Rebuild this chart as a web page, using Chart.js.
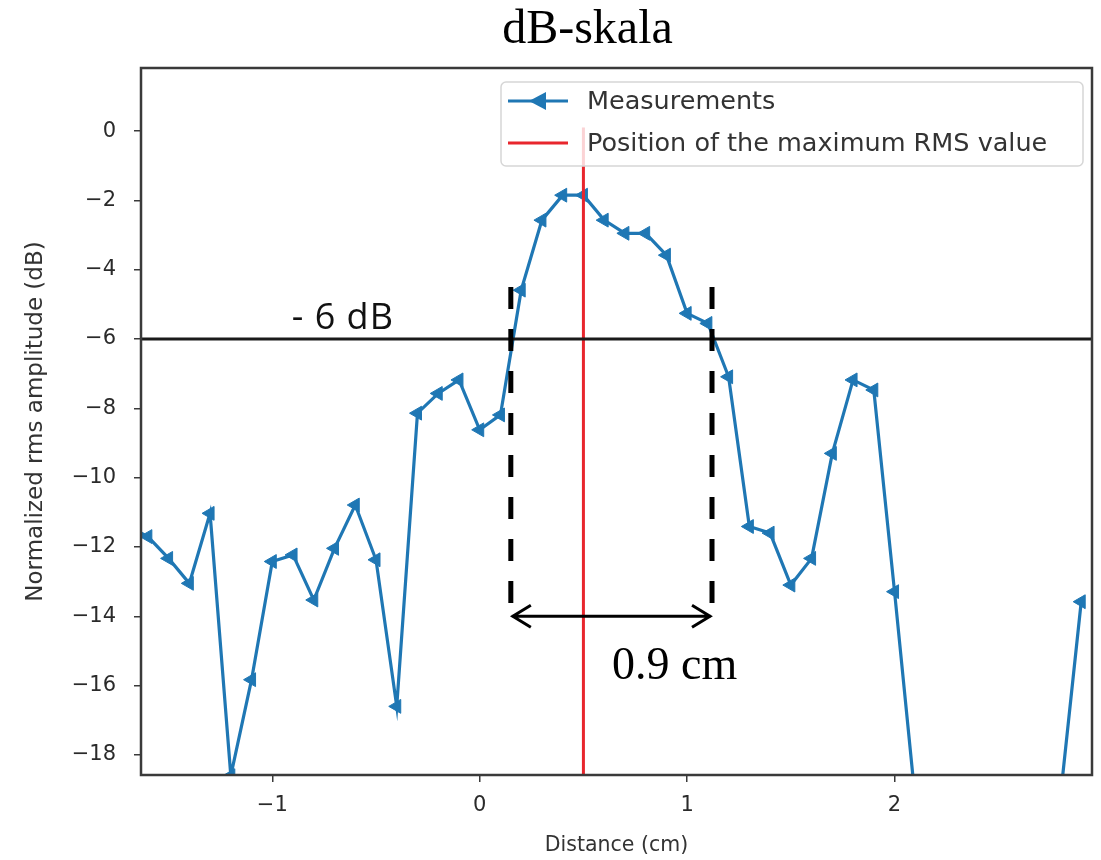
<!DOCTYPE html>
<html>
<head>
<meta charset="utf-8">
<script src="https://cdn.jsdelivr.net/npm/chart.js@4.4.1/dist/chart.umd.min.js"></script>
<style>
  html, body { margin: 0; padding: 0; background: #fff; }
</style>
</head>
<body>
<canvas id="chart" width="1101" height="860"></canvas>
<script>
// measured rms amplitude along the scan line
const distance = [-1.7, -1.6, -1.5, -1.4, -1.3, -1.2, -1.1, -1.0, -0.9, -0.8, -0.7, -0.6, -0.5, -0.4,
  -0.3, -0.2, -0.1, 0.0, 0.1, 0.2, 0.3, 0.4, 0.5, 0.6, 0.7, 0.8, 0.9, 1.0, 1.1, 1.2, 1.3, 1.4,
  1.5, 1.6, 1.7, 1.8, 1.9, 2.0, 2.1, 2.2, 2.3, 2.4, 2.5, 2.6, 2.7, 2.8, 2.9];
const amplitude = [-11.4, -11.7, -12.33, -13.05, -11.03, -18.6, -15.83, -12.42, -12.23, -13.53, -12.04, -10.79, -12.37, -16.6,
  -8.14, -7.57, -7.18, -8.62, -8.19, -4.59, -2.57, -1.85, -1.85, -2.57, -2.95, -2.95, -3.58, -5.26, -5.55, -7.09, -11.41, -11.6,
  -13.1, -12.33, -9.3, -7.18, -7.47, -13.29, -19.3, -21.5, -23.0, -22.0, -24.0, -22.5, -21.0, -19.2, -13.58];

const xTicks = [-1, 0, 1, 2];
const yTicks = [0, -2, -4, -6, -8, -10, -12, -14, -16, -18];
const xRange = [-1.633, 2.952];
const yRange = [-18.58, 1.82];

const peakX = 0.5;
const peakSpan = [0.1, -25];
const levelY = -6;
const levelSpan = [-1.8, 3.1];
const halfX = [0.15, 1.12];
const halfSpan = [-4.5, -13.7];
const arrowY = -14;

const legendLabels = ["Measurements", "Position of the maximum RMS value"];
const BLUE = "#1f77b4", RED = "#e8262d", INK = "#2a2a2a";

const pts = (xs, ys) => xs.map((x, i) => ({ x, y: ys[i] }));
const minus = v => String(v).replace("-", "\u2212");

const extras = {
  id: "extras",
  afterDatasetsDraw(chart) {
    const { ctx, chartArea: a, scales: { x, y } } = chart;
    ctx.save();
    // frame
    ctx.strokeStyle = "#3a3a3a";
    ctx.lineWidth = 2.5;
    ctx.strokeRect(a.left, a.top, a.right - a.left, a.bottom - a.top);

    // legend
    const lx = 501, ly = 82, lw = 582, lh = 84;
    ctx.beginPath();
    ctx.roundRect(lx, ly, lw, lh, 5);
    ctx.fillStyle = "rgba(255,255,255,0.8)";
    ctx.fill();
    ctx.strokeStyle = "#d6d6d6";
    ctx.lineWidth = 1.5;
    ctx.stroke();
    ctx.font = "25.5px 'DejaVu Sans'";
    ctx.textBaseline = "middle";
    const rows = [101, 143];
    ctx.lineWidth = 3;
    ctx.strokeStyle = BLUE;
    ctx.beginPath(); ctx.moveTo(508, rows[0]); ctx.lineTo(568, rows[0]); ctx.stroke();
    ctx.fillStyle = BLUE;
    ctx.beginPath();
    ctx.moveTo(529, rows[0]); ctx.lineTo(546, rows[0] - 9); ctx.lineTo(546, rows[0] + 9); ctx.closePath();
    ctx.fill();
    ctx.strokeStyle = RED;
    ctx.beginPath(); ctx.moveTo(508, rows[1]); ctx.lineTo(568, rows[1]); ctx.stroke();
    ctx.fillStyle = "#333";
    legendLabels.forEach((t, i) => ctx.fillText(t, 587, rows[i] + 1));

    // -6 dB label
    ctx.fillStyle = "#111";
    ctx.font = "36px 'Open Sans'";
    ctx.letterSpacing = "1px";
    ctx.textAlign = "center";
    ctx.textBaseline = "alphabetic";
    ctx.fillText("- 6 dB", x.getPixelForValue(-0.66), y.getPixelForValue(levelY) - 10);
    ctx.letterSpacing = "0px";

    // double arrow
    const x0 = x.getPixelForValue(halfX[0]), x1 = x.getPixelForValue(halfX[1]);
    const ay = y.getPixelForValue(arrowY);
    ctx.strokeStyle = "#000";
    ctx.lineWidth = 3;
    ctx.beginPath();
    ctx.moveTo(x0 + 1, ay); ctx.lineTo(x1 - 1, ay);
    ctx.moveTo(x0 + 20, ay - 11); ctx.lineTo(x0 + 2, ay); ctx.lineTo(x0 + 20, ay + 11);
    ctx.moveTo(x1 - 20, ay - 11); ctx.lineTo(x1 - 2, ay); ctx.lineTo(x1 - 20, ay + 11);
    ctx.stroke();

    ctx.font = "46px 'Liberation Serif'";
    ctx.fillStyle = "#000";
    ctx.fillText("0.9 cm", x.getPixelForValue(0.94), y.getPixelForValue(-15.8));

    // title
    ctx.font = "48px 'Liberation Serif'";
    ctx.fillText("dB-skala", (a.left + a.right) / 2 - 29, 43);
    ctx.restore();
  }
};

new Chart(document.getElementById("chart"), {
  type: "line",
  data: {
    datasets: [
      {
        data: pts(halfX.slice(0, 1).concat(halfX.slice(0, 1)), halfSpan),
        borderColor: "#000", borderWidth: 5, borderDash: [22, 20], pointRadius: 0, order: 0
      },
      {
        data: pts(halfX.slice(1).concat(halfX.slice(1)), halfSpan),
        borderColor: "#000", borderWidth: 5, borderDash: [22, 20], pointRadius: 0, order: 0
      },
      {
        data: pts(levelSpan, [levelY, levelY]),
        borderColor: "#1a1a1a", borderWidth: 2.8, pointRadius: 0, order: 0
      },
      {
        label: legendLabels[1],
        data: pts([peakX, peakX], peakSpan),
        borderColor: RED, borderWidth: 3, pointRadius: 0, order: 1
      },
      {
        label: legendLabels[0],
        data: pts(distance, amplitude),
        borderColor: BLUE, borderWidth: 3.2,
        pointStyle: "triangle", rotation: -90, pointRadius: 8,
        pointBackgroundColor: BLUE, pointBorderColor: BLUE, pointBorderWidth: 1,
        tension: 0, order: 2
      }
    ]
  },
  options: {
    responsive: false,
    animation: false,
    devicePixelRatio: 1,
    layout: { padding: { left: 0, right: 9, top: 68, bottom: 0 } },
    plugins: { legend: { display: false }, tooltip: { enabled: false } },
    scales: {
      x: {
        type: "linear", min: xRange[0], max: xRange[1],
        afterFit: s => { s.height = 85; },
        afterBuildTicks: s => { s.ticks = xTicks.map(v => ({ value: v })); },
        grid: { drawOnChartArea: false, drawTicks: true, tickLength: 7, color: "#3a3a3a", lineWidth: 1.5 },
        border: { display: false },
        ticks: { color: INK, font: { family: "DejaVu Sans", size: 21 }, padding: 11, callback: minus },
        title: { display: true, text: "Distance (cm)", color: "#333", font: { family: "DejaVu Sans", size: 20.5 }, padding: { top: 0, bottom: 2 } }
      },
      y: {
        type: "linear", min: yRange[0], max: yRange[1],
        afterFit: s => { s.width = 141; },
        afterBuildTicks: s => { s.ticks = yTicks.map(v => ({ value: v })); },
        grid: { drawOnChartArea: false, drawTicks: true, tickLength: 7, color: "#3a3a3a", lineWidth: 1.5 },
        border: { display: false },
        ticks: { color: INK, font: { family: "DejaVu Sans", size: 21 }, padding: 18, callback: minus },
        title: { display: true, text: "Normalized rms amplitude (dB)", color: "#333", font: { family: "DejaVu Sans", size: 23 }, padding: { top: 22, bottom: 0 } }
      }
    }
  },
  plugins: [extras]
});
</script>
</body>
</html>
